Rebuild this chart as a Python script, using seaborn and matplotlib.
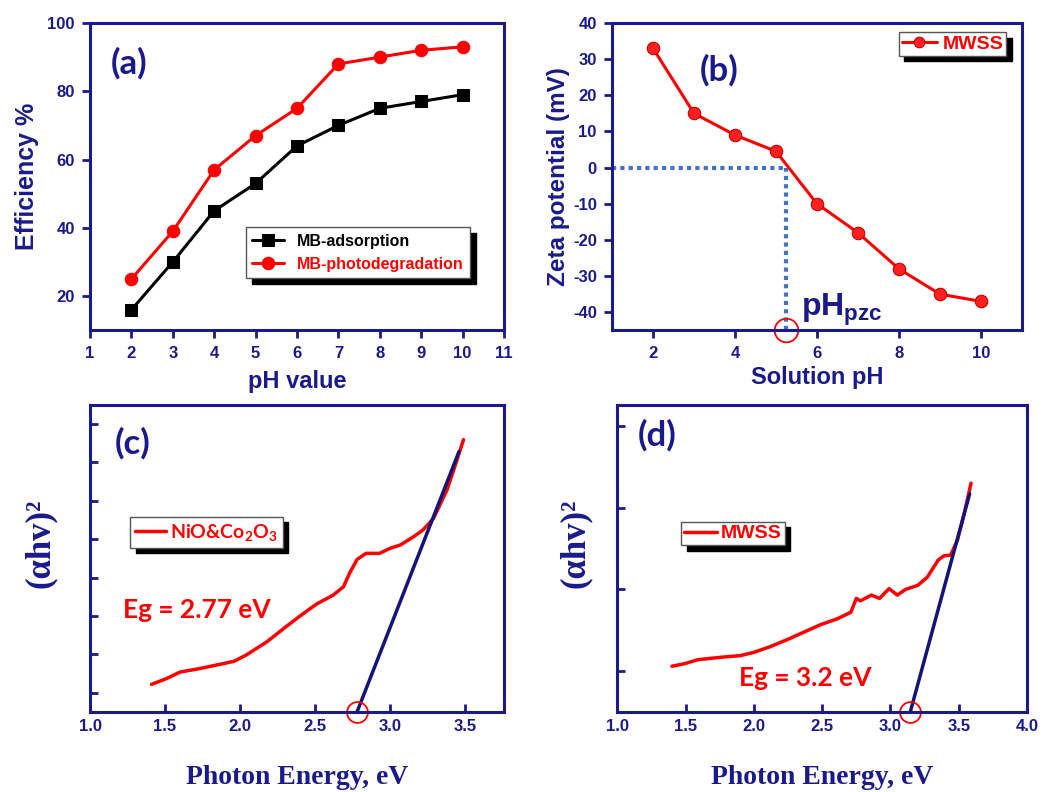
import matplotlib
matplotlib.use('Agg')
import matplotlib.pyplot as plt
import seaborn as sns

# (a) removal efficiency vs pH
ph_a = [2, 3, 4, 5, 6, 7, 8, 9, 10]
adsorption = [16, 30, 45, 53, 64, 70, 75, 77, 79]
photodeg = [25, 39, 57, 67, 75, 88, 90, 92, 93]

# (b) zeta potential vs pH
ph_b = [2, 3, 4, 5, 6, 7, 8, 9, 10]
zeta = [33, 15, 9, 4.5, -10, -18, -28, -35, -37]
ph_pzc = 5.25

# (c) Tauc plot NiO&Co2O3
energy_c = [1.41, 1.51, 1.60, 1.73, 1.84, 1.96, 2.04, 2.18, 2.29, 2.40, 2.51, 2.62,
            2.69, 2.73, 2.78, 2.84, 2.93, 3.00, 3.07, 3.16, 3.22, 3.29, 3.38, 3.44, 3.49]
tauc_c = [0.72, 0.87, 1.04, 1.13, 1.22, 1.32, 1.48, 1.83, 2.17, 2.50, 2.81, 3.04,
          3.26, 3.61, 3.97, 4.13, 4.13, 4.26, 4.35, 4.57, 4.74, 5.04, 5.78, 6.48, 7.09]
eg_c = 2.78
tangent_c_x = [2.78, 3.46]
tangent_c_y = [0, 6.78]

# (d) Tauc plot MWSS
energy_d = [1.40, 1.49, 1.59, 1.76, 1.90, 2.00, 2.12, 2.25, 2.37, 2.49, 2.61, 2.71, 2.75,
            2.78, 2.86, 2.92, 2.99, 3.05, 3.11, 3.20, 3.27, 3.35, 3.39, 3.44, 3.49, 3.54, 3.59]
tauc_d = [0.56, 0.59, 0.64, 0.67, 0.69, 0.73, 0.80, 0.89, 0.98, 1.07, 1.14, 1.22, 1.39,
          1.36, 1.43, 1.39, 1.51, 1.43, 1.50, 1.55, 1.65, 1.86, 1.91, 1.92, 2.10, 2.43, 2.80]
eg_d = 3.145
tangent_d_x = [3.145, 3.58]
tangent_d_y = [0, 2.67]

NAVY = '#1a1a8c'

sns.set_theme(style='white')
plt.rcParams['font.family'] = ['Liberation Sans', 'DejaVu Sans']
plt.rcParams['font.weight'] = 'bold'
plt.rcParams['mathtext.default'] = 'regular'
plt.rcParams['axes.unicode_minus'] = False

fig = plt.figure(figsize=(10.48, 7.92), dpi=100)
ax_a = fig.add_axes([0.0859, 0.583, 0.395, 0.388])
ax_b = fig.add_axes([0.584, 0.583, 0.391, 0.388])
ax_c = fig.add_axes([0.0859, 0.101, 0.395, 0.388])
ax_d = fig.add_axes([0.589, 0.101, 0.391, 0.388])


def style_axes(ax, direction):
    for s in ax.spines.values():
        s.set_color(NAVY)
        s.set_linewidth(2.2)
    ax.tick_params(direction=direction, length=6, width=2, colors=NAVY,
                   labelsize=12, pad=5, left=True, bottom=True)
    for lbl in ax.get_xticklabels() + ax.get_yticklabels():
        lbl.set_fontweight('bold')


def legend(ax, anchor, **kw):
    leg = ax.legend(loc='upper left', bbox_to_anchor=anchor, fancybox=False,
                    edgecolor='#555555', framealpha=1, labelcolor='linecolor',
                    shadow={'ox': 4, 'oy': -4, 'color': 'black', 'alpha': 1},
                    borderaxespad=0, **kw)
    leg.get_frame().set_linewidth(1)
    return leg


# ---- (a)
sns.lineplot(x=ph_a, y=adsorption, color='black', marker='s', markersize=8,
             markeredgecolor='black', linewidth=2.2, label='MB-adsorption', ax=ax_a)
sns.lineplot(x=ph_a, y=photodeg, color='red', marker='o', markersize=9,
             markeredgecolor='red', linewidth=2.2, label='MB-photodegradation', ax=ax_a)
ax_a.set_xlim(1, 11)
ax_a.set_ylim(10, 100)
ax_a.set_xticks(range(1, 12))
ax_a.set_yticks(range(20, 101, 20))
style_axes(ax_a, 'out')
ax_a.set_xlabel('pH value', fontsize=17, color=NAVY, fontweight='bold', labelpad=7)
ax_a.set_ylabel('Efficiency %', fontsize=18, color=NAVY, fontweight='bold', labelpad=6)
ax_a.text(0.05, 0.87, '(a)', transform=ax_a.transAxes, fontsize=25, fontweight='bold',
          color=NAVY, family='Lato', va='center')
legend(ax_a, (0.377, 0.335), prop={'size': 11.5, 'weight': 'bold'})

# ---- (b)
ax_b.hlines(0, 1, ph_pzc, colors='#4472c4', linestyles=(0, (1, 1)), linewidth=3)
ax_b.vlines(ph_pzc, -45, 0, colors='#4472c4', linestyles=(0, (1, 1)), linewidth=3)
sns.lineplot(x=ph_b, y=zeta, color='red', marker='o', markersize=9,
             markerfacecolor='#ff2020', markeredgecolor='#c00000', linewidth=2.2,
             label='MWSS', ax=ax_b)
ax_b.plot(ph_pzc, -45, 'o', mfc='none', mec='red', ms=17, mew=1.3, clip_on=False)
ax_b.text(5.62, -41, '$pH_{pzc}$', fontsize=23, fontweight='bold', color=NAVY,
          va='baseline')
ax_b.set_xlim(1, 11)
ax_b.set_ylim(-45, 40)
ax_b.set_xticks(range(2, 11, 2))
ax_b.set_yticks(range(-40, 41, 10))
style_axes(ax_b, 'out')
ax_b.set_xlabel('Solution pH', fontsize=17, color=NAVY, fontweight='bold', labelpad=4)
ax_b.set_ylabel('Zeta potential (mV)', fontsize=17.5, color=NAVY, fontweight='bold',
                labelpad=2)
ax_b.text(0.215, 0.847, '(b)', transform=ax_b.transAxes, fontsize=25, fontweight='bold',
          color=NAVY, family='Lato', va='center')
legend(ax_b, (0.70, 0.97), prop={'size': 14, 'weight': 'bold'}, handlelength=1.8,
       borderpad=0.15, handletextpad=0.3, markerscale=0.85)

# ---- (c)
sns.lineplot(x=energy_c, y=tauc_c, color='red', linewidth=2.5,
             label='NiO&Co$_2$O$_3$', ax=ax_c)
ax_c.plot(tangent_c_x, tangent_c_y, color='#141478', linewidth=2.5)
ax_c.plot(eg_c, 0, 'o', mfc='none', mec='red', ms=15, mew=1.3, clip_on=False)
ax_c.text(1.22, 2.65, 'Eg = 2.77 eV', fontsize=19, fontweight='bold', color='red',
          family='Lato', va='center')
ax_c.set_xlim(1.0, 3.76)
ax_c.set_ylim(0, 8)
ax_c.set_xticks([1.0, 1.5, 2.0, 2.5, 3.0, 3.5])
ax_c.set_yticks([0.5, 1.5, 2.5, 3.5, 4.5, 5.5, 6.5, 7.5])
style_axes(ax_c, 'in')
ax_c.set_xticklabels(['1.0', '1.5', '2.0', '2.5', '3.0', '3.5'], fontweight='bold')
ax_c.set_yticklabels([])
ax_c.set_xlabel('Photon Energy, eV', fontsize=20, color=NAVY, fontweight='bold',
                family='Liberation Serif', labelpad=22)
ax_c.set_ylabel('(αhv)²', fontsize=25, color=NAVY, fontweight='bold',
                family='Liberation Serif')
ax_c.yaxis.set_label_coords(-0.08, 0.55)
ax_c.text(0.06, 0.876, '(c)', transform=ax_c.transAxes, fontsize=25, fontweight='bold',
          color=NAVY, family='Lato', va='center')
legend(ax_c, (0.097, 0.635), prop={'size': 14, 'weight': 'bold', 'family': 'Lato'},
       handlelength=1.6, handletextpad=0.2, borderpad=0.25)

# ---- (d)
sns.lineplot(x=energy_d, y=tauc_d, color='red', linewidth=2.5, label='MWSS', ax=ax_d)
ax_d.plot(tangent_d_x, tangent_d_y, color='#141478', linewidth=2.5)
ax_d.plot(eg_d, 0, 'o', mfc='none', mec='red', ms=15, mew=1.3, clip_on=False)
ax_d.text(1.89, 0.41, 'Eg = 3.2 eV', fontsize=19, fontweight='bold', color='red',
          family='Lato', va='center')
ax_d.set_xlim(1.0, 4.0)
ax_d.set_ylim(0, 3.76)
ax_d.set_xticks([1.0, 1.5, 2.0, 2.5, 3.0, 3.5, 4.0])
ax_d.set_yticks([0.5, 1.5, 2.5, 3.5])
style_axes(ax_d, 'in')
ax_d.set_xticklabels(['1.0', '1.5', '2.0', '2.5', '3.0', '3.5', '4.0'], fontweight='bold')
ax_d.set_yticklabels([])
ax_d.set_xlabel('Photon Energy, eV', fontsize=20, color=NAVY, fontweight='bold',
                family='Liberation Serif', labelpad=22)
ax_d.set_ylabel('(αhv)²', fontsize=25, color=NAVY, fontweight='bold',
                family='Liberation Serif')
ax_d.yaxis.set_label_coords(-0.061, 0.55)
ax_d.text(0.049, 0.90, '(d)', transform=ax_d.transAxes, fontsize=25, fontweight='bold',
          color=NAVY, family='Lato', va='center')
legend(ax_d, (0.156, 0.619), prop={'size': 14, 'weight': 'bold'},
       handlelength=1.7, handletextpad=0.2, borderpad=0.15)

fig.savefig('out.png', dpi=100, facecolor='white')
